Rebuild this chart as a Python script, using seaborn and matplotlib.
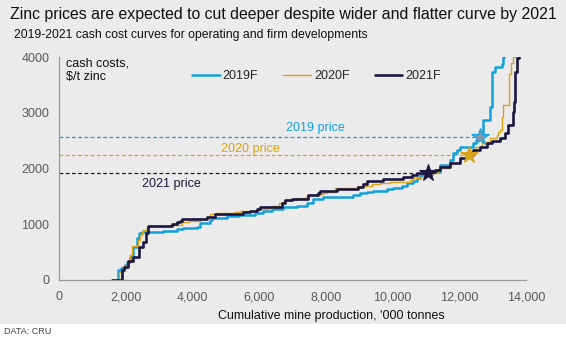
import matplotlib
matplotlib.use("Agg")
import matplotlib.pyplot as plt
import matplotlib.patches as mpatches
import seaborn as sns
import pandas as pd
import numpy as np

# ---- data ----
x_2019 = [1750, 1780, 1850, 1980, 2030, 2130, 2230, 2330, 2410, 2480, 3130, 3530, 3730, 3930,
          4130, 4230, 4530, 4600, 5025, 5400, 5875, 6125, 6375, 6725, 7124, 7424, 7624, 7924,
          8823, 9023, 9222, 9422, 9822, 10022, 10272, 10422, 10622, 10722, 10822, 11121, 11421,
          11721, 11821, 11921, 12020, 12420, 12500, 12570, 12720, 12920, 12970, 13070, 13270,
          13320, 13340]
y_2019 = [0, 180, 220, 270, 330, 420, 600, 750, 850, 867, 885, 909, 927, 940,
          957, 1028, 1080, 1118, 1148, 1166, 1208, 1243, 1273, 1303, 1334, 1375, 1447, 1494,
          1525, 1555, 1584, 1602, 1626, 1656, 1686, 1734, 1781, 1824, 1883, 1943, 2063,
          2152, 2272, 2332, 2391, 2450, 2510, 2570, 2870, 3109, 3736, 3816, 3870,
          4000, 4000]

x_2020 = [1580, 1810, 1930, 2030, 2130, 2180, 2380, 2430, 2480, 2530, 2630, 2730, 3327, 3677,
          3900, 4227, 4400, 4527, 4676, 5276, 5426, 5925, 6025, 6275, 6375, 6605, 6675, 6775,
          7125, 7424, 7824, 7924, 8024, 8274, 8923, 9372, 9622, 9922, 10372, 10522, 10622,
          10822, 11000, 11221, 11371, 11421, 11721, 12020, 12220, 12470, 12670, 12920, 13120,
          13170, 13220, 13270, 13320, 13480, 13540, 13600, 13700]
y_2020 = [0, 150, 251, 329, 448, 616, 717, 807, 867, 897, 957, 960, 990, 1035,
          1060, 1100, 1136, 1184, 1196, 1213, 1231, 1250, 1273, 1300, 1320, 1375, 1405, 1435,
          1477, 1525, 1543, 1567, 1584, 1656, 1686, 1716, 1734, 1752, 1764, 1794, 1824,
          1853, 1890, 1913, 1961, 2003, 2093, 2183, 2240, 2391, 2481, 2541, 2601,
          2660, 2690, 2929, 3139, 3700, 3886, 4000, 4000]

x_2021 = [1580, 1879, 1948, 2078, 2228, 2408, 2528, 2598, 2658, 2700, 3377, 3527, 3627, 3677,
          4427, 4676, 5525, 5725, 5926, 6025, 6675, 6775, 6975, 7474, 7774, 7824, 8324, 8973,
          9123, 9223, 9722, 10322, 10572, 10722, 11072, 11271, 11421, 11721, 12020, 12220,
          12420, 12620, 12820, 12970, 13220, 13369, 13469, 13599, 13640, 13669, 13739, 13799]
y_2021 = [0, 180, 240, 340, 410, 600, 690, 840, 960, 975, 1005, 1040, 1065, 1094,
          1136, 1190, 1213, 1243, 1273, 1304, 1375, 1435, 1458, 1525, 1555, 1602, 1632, 1663,
          1716, 1781, 1806, 1842, 1883, 1913, 1931, 1973, 2021, 2093, 2183, 2242,
          2332, 2391, 2451, 2499, 2541, 2631, 2780, 3019, 3199, 3736, 3976, 4000]

series_names = ["2019F", "2020F", "2021F"]
price_labels = ["2019 price", "2020 price", "2021 price"]
price_values = [2570, 2240, 1915]
price_x = [12620, 12300, 11070]          # where each price meets its curve (star)
label_x = [7674, 5725, 3357]
label_y = [2726, 2350, 1722]

colors = ["#12a0dc", "#d8a317", "#1c173f"]
widths = [1.8, 1.0, 1.9]

frames = []
for name, xs, ys in zip(series_names, [x_2019, x_2020, x_2021], [y_2019, y_2020, y_2021]):
    frames.append(pd.DataFrame({"production": xs, "cost": ys, "series": name}))
df = pd.concat(frames, ignore_index=True)

# ---- figure ----
sns.set_theme(style="white")
plt.rcParams["font.family"] = ["Liberation Sans", "DejaVu Sans"]

BG = "#ebebeb"
fig = plt.figure(figsize=(5.66, 3.41), dpi=100, facecolor="white")
fig.patches.append(mpatches.Rectangle((0, 17/341), 1, 1 - 17/341, transform=fig.transFigure,
                                      facecolor=BG, edgecolor="none", zorder=-10))
ax = fig.add_axes([59/566, 1 - 280/341, (526 - 59)/566, (280 - 57)/341])
ax.set_facecolor(BG)

for name, c, lw in zip(series_names, colors, widths):
    sub = df[df["series"] == name]
    sns.lineplot(data=sub, x="production", y="cost", ax=ax, color=c, linewidth=lw,
                 drawstyle="steps-post", label=name, estimator=None, sort=False, zorder=3)

# price lines and stars
star_fc = ["#7f98aa", colors[1], colors[2]]
for pv, px, c, fc, lab, lx, ly in zip(price_values, price_x, colors, star_fc, price_labels,
                                      label_x, label_y):
    ax.plot([0, px], [pv, pv], color=c, linestyle=(0, (3, 2)), linewidth=0.9, zorder=2)
    ax.plot([px], [pv], marker="*", markersize=13, markerfacecolor=fc,
            markeredgecolor=c, markeredgewidth=0.8, zorder=5, linestyle="none")
    ax.text(lx, ly, lab, color=c, fontsize=9, ha="center", va="center")

ax.set_xlim(0, 14000)
ax.set_ylim(0, 4000)
ax.set_xticks(np.arange(0, 14001, 2000))
ax.set_xticklabels([f"{v:,}" for v in range(0, 14001, 2000)])
ax.set_yticks(np.arange(0, 4001, 1000))
ax.set_yticklabels([str(v) for v in range(0, 4001, 1000)])

for s in ["top", "right"]:
    ax.spines[s].set_visible(False)
for s in ["left", "bottom"]:
    ax.spines[s].set_color("#9a9a9a")
    ax.spines[s].set_linewidth(0.9)
ax.tick_params(axis="both", direction="out", length=4, width=0.8, color="#9a9a9a",
               labelsize=9, labelcolor="#595959", pad=3)
ax.tick_params(axis="x", pad=4)
ax.set_xlabel("")
ax.set_ylabel("")

leg = ax.legend(loc="center left", bbox_to_anchor=(192/566, 1 - 76/341),
                bbox_transform=fig.transFigure, ncol=3, frameon=False, fontsize=9,
                handlelength=2.2, handletextpad=0.25, columnspacing=2.0, borderpad=0,
                borderaxespad=0)

fig.text(66/566, 1 - 58/341, "cash costs,\n$/t zinc", fontsize=9, color="#111111",
         ha="left", va="top", linespacing=1.1)
fig.text(331/566, 1 - 316/341, "Cumulative mine production, '000 tonnes", fontsize=9,
         color="#111111", ha="center", va="center")
fig.text(10/566, 1 - 14/341,
         "Zinc prices are expected to cut deeper despite wider and flatter curve by 2021",
         fontsize=11.4, color="#111111", ha="left", va="center")
fig.text(14/566, 1 - 35/341, "2019-2021 cash cost curves for operating and firm developments",
         fontsize=8.8, color="#111111", ha="left", va="center")
fig.text(4/566, 1 - 331/341, "DATA: CRU", fontsize=6.5, color="#444444", ha="left",
         va="center")

fig.savefig("out.png", dpi=100, facecolor=fig.get_facecolor())
